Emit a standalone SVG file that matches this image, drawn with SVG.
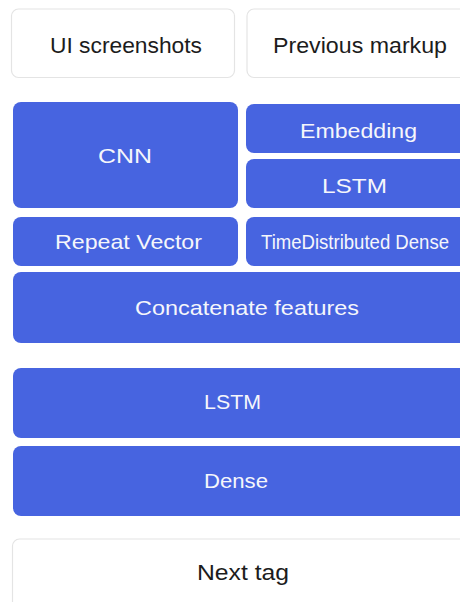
<svg xmlns="http://www.w3.org/2000/svg" width="460" height="602" viewBox="0 0 460 602">
<style>
.in{fill:#ffffff;stroke:#e4e4e4;stroke-width:1.2}
.bl{fill:#4764e0}
.tw{fill:#f5f6fb;font-family:"Liberation Sans",Arial,sans-serif;font-size:21px}
.td{fill:#1c1c1c;font-family:"Liberation Sans",Arial,sans-serif;font-size:22px}
</style>
<rect width="460" height="602" fill="#ffffff"/>
<g id="ui-screenshots">
<rect class="in" x="11.5" y="9" width="223" height="68.5" rx="7"/>
<text class="td" x="50" y="53" textLength="152" lengthAdjust="spacingAndGlyphs">UI screenshots</text>
</g>
<g id="previous-markup">
<rect class="in" x="247" y="9" width="240" height="68.5" rx="7"/>
<text class="td" x="273" y="53" textLength="174" lengthAdjust="spacingAndGlyphs">Previous markup</text>
</g>
<g id="cnn">
<rect class="bl" x="13" y="102" width="225" height="106" rx="8"/>
<text class="tw" x="98" y="163" textLength="54" lengthAdjust="spacingAndGlyphs">CNN</text>
</g>
<g id="embedding">
<rect class="bl" x="246" y="104" width="240" height="49" rx="8"/>
<text class="tw" x="300" y="138" textLength="117" lengthAdjust="spacingAndGlyphs">Embedding</text>
</g>
<g id="lstm-small">
<rect class="bl" x="246" y="159" width="240" height="49" rx="8"/>
<text class="tw" x="322" y="193" textLength="65" lengthAdjust="spacingAndGlyphs">LSTM</text>
</g>
<g id="repeat-vector">
<rect class="bl" x="13" y="217" width="225" height="49" rx="8"/>
<text class="tw" x="55" y="249" textLength="147" lengthAdjust="spacingAndGlyphs">Repeat Vector</text>
</g>
<g id="time-distributed-dense">
<rect class="bl" x="246" y="217" width="240" height="49" rx="8"/>
<text class="tw" x="261" y="249" font-size="18" textLength="188" lengthAdjust="spacingAndGlyphs">TimeDistributed Dense</text>
</g>
<g id="concatenate">
<rect class="bl" x="13" y="272" width="480" height="71" rx="8"/>
<text class="tw" x="135" y="315" textLength="224" lengthAdjust="spacingAndGlyphs">Concatenate features</text>
</g>
<g id="lstm">
<rect class="bl" x="13" y="368" width="480" height="70" rx="8"/>
<text class="tw" x="204" y="409" textLength="57" lengthAdjust="spacingAndGlyphs">LSTM</text>
</g>
<g id="dense">
<rect class="bl" x="13" y="446" width="480" height="70" rx="8"/>
<text class="tw" x="204" y="488" textLength="64" lengthAdjust="spacingAndGlyphs">Dense</text>
</g>
<g id="next-tag">
<rect class="in" x="12.5" y="539" width="480" height="90" rx="7"/>
<text class="td" x="197" y="580" textLength="92" lengthAdjust="spacingAndGlyphs">Next tag</text>
</g>
<g id="connectors"/>
</svg>
